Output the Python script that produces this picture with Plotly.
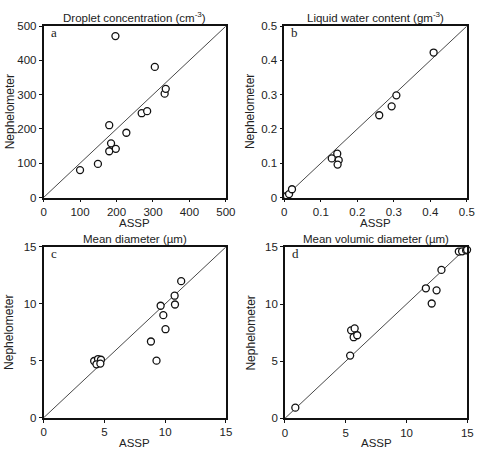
import plotly.graph_objects as go

# Panel a: Droplet concentration (cm^-3)
a_assp = [100, 149, 180, 185, 180, 198, 227, 197, 269, 284, 305, 332, 335]
a_neph = [80, 98, 211, 158, 135, 142, 189, 471, 246, 252, 381, 303, 317]
# Panel b: Liquid water content (g m^-3)
b_assp = [0.007, 0.013, 0.021, 0.130, 0.145, 0.149, 0.146, 0.260, 0.294, 0.307, 0.409]
b_neph = [0.005, 0.010, 0.024, 0.114, 0.128, 0.109, 0.096, 0.240, 0.266, 0.298, 0.423]
# Panel c: Mean diameter (um)
c_assp = [4.16, 4.48, 4.35, 4.72, 4.67, 8.83, 9.29, 9.63, 9.85, 10.03, 10.78, 10.81, 11.32]
c_neph = [4.99, 5.16, 4.70, 5.10, 4.76, 6.70, 5.02, 9.84, 9.01, 7.78, 10.72, 9.95, 12.00]
# Panel d: Mean volumic diameter (um)
d_assp = [0.85, 5.36, 5.44, 5.73, 5.65, 5.94, 11.59, 12.07, 12.47, 12.87, 14.30, 14.57, 14.90, 14.98]
d_neph = [0.93, 5.49, 7.70, 7.87, 7.10, 7.27, 11.38, 10.05, 11.20, 12.99, 14.60, 14.62, 14.70, 14.75]

titles = ["Droplet concentration (cm<sup>-3</sup>)", "Liquid water content (gm<sup>-3</sup>)",
          "Mean diameter (\u00b5m)", "Mean volumic diameter (\u00b5m)"]
labels = ["a", "b", "c", "d"]
ranges = [500, 0.5, 15, 15]
dticks = [100, 0.1, 5, 5]

W, H = 489, 454
# pixel boxes (left, right, top, bottom)
boxes = [(41.7, 229.0, 20.7, 196.7), (289.0, 476.5, 20.7, 196.7),
         (41.7, 229.0, 247.5, 423.0), (289.7, 477.0, 247.5, 423.5)]

data = [(a_assp, a_neph), (b_assp, b_neph), (c_assp, c_neph), (d_assp, d_neph)]

fig = go.Figure()
layout = {}
annotations = []
font = "Liberation Sans, Arial, sans-serif"
txtcol = "#222222"
for i, ((xs, ys), box) in enumerate(zip(data, boxes)):
    n = "" if i == 0 else str(i + 1)
    xa, ya = "x" + n, "y" + n
    l, r, t, b = box
    xd = [l / W, r / W]
    yd = [1 - b / H, 1 - t / H]
    rng = ranges[i]
    fig.add_trace(go.Scatter(x=[0, rng], y=[0, rng], mode="lines",
                             line=dict(color="#333333", width=0.9),
                             xaxis=xa, yaxis=ya, showlegend=False, hoverinfo="skip"))
    fig.add_trace(go.Scatter(x=xs, y=ys, mode="markers",
                             marker=dict(symbol="circle", size=7, color="white",
                                         line=dict(color="#111111", width=1.3)),
                             xaxis=xa, yaxis=ya, showlegend=False, cliponaxis=False))
    common = dict(range=[0, rng], dtick=dticks[i], tick0=0, showgrid=False, zeroline=False,
                  showline=True, linecolor="#111111", linewidth=1.6, mirror=True,
                  ticks="outside", ticklen=3, tickwidth=1.2, tickcolor="#111111",
                  tickfont=dict(family=font, size=11.5, color=txtcol))
    layout["xaxis" + n] = dict(domain=xd, anchor=ya, **common)
    layout["yaxis" + n] = dict(domain=yd, anchor=xa, **common)
    cx = (xd[0] + xd[1]) / 2
    annotations.append(dict(text=titles[i], x=cx, y=yd[1], xref="paper", yref="paper",
                            xanchor="center", yanchor="bottom", yshift=0, showarrow=False,
                            font=dict(family=font, size=11.5, color=txtcol)))
    annotations.append(dict(text="ASSP", x=cx, y=yd[0], xref="paper", yref="paper",
                            xanchor="center", yanchor="top", yshift=-17, showarrow=False,
                            font=dict(family=font, size=11.5, color=txtcol)))
    annotations.append(dict(text="Nephelometer", x=(l - 35) / W, y=(yd[0] + yd[1]) / 2,
                            xref="paper", yref="paper", xanchor="center", yanchor="middle",
                            textangle=-90, showarrow=False,
                            font=dict(family=font, size=12, color=txtcol)))
    annotations.append(dict(text=labels[i], x=xd[0], y=yd[1], xref="paper", yref="paper",
                            xanchor="left", yanchor="top", xshift=5, yshift=3, showarrow=False,
                            font=dict(family="Liberation Serif, serif", size=13, color=txtcol)))

fig.update_layout(width=W, height=H, margin=dict(l=0, r=0, t=0, b=0),
                  paper_bgcolor="white", plot_bgcolor="white",
                  annotations=annotations, **layout)
fig.write_html("out.html")
